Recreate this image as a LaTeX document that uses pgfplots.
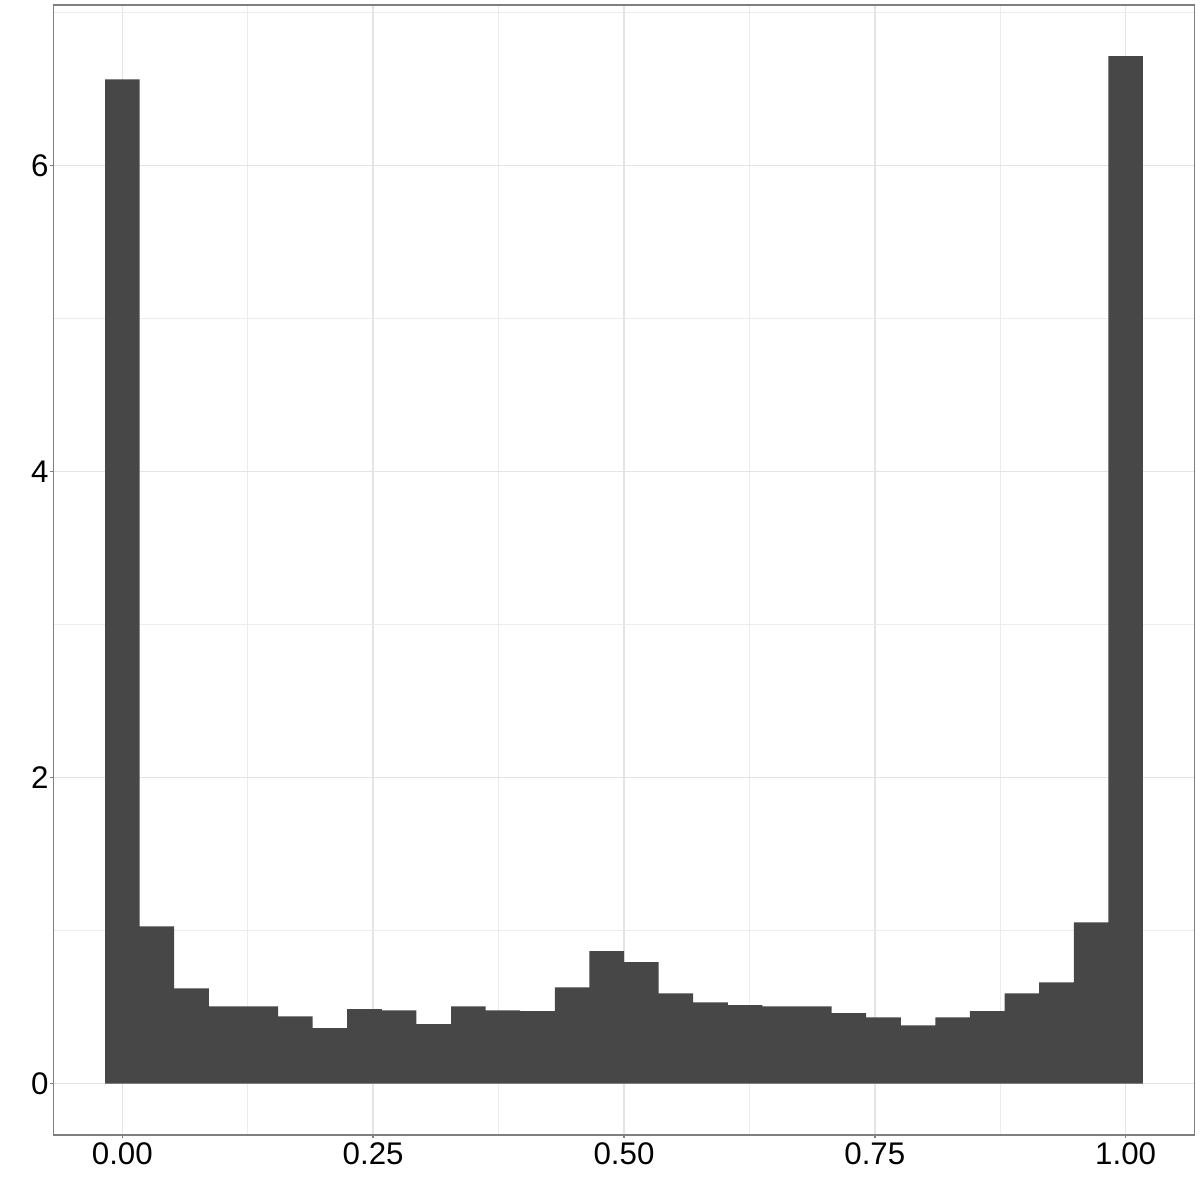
\documentclass[border=0pt]{standalone}
\usepackage{pgfplots}
\pgfplotsset{compat=1.18}
\usepackage{fontspec}
\setmainfont{Liberation Sans}
\definecolor{barfill}{HTML}{474747}
\definecolor{gridc}{HTML}{E4E4E4}
\definecolor{gridm}{HTML}{ECECEC}
\definecolor{framec}{HTML}{7F7F7F}
\begin{document}
\begin{tikzpicture}
\begin{axis}[
  scale only axis,
  width=11.41cm, height=11.30cm,
  xmin=-0.0686, xmax=1.0686,
  ymin=-0.3356, ymax=7.048,
  xtick={0,0.25,0.5,0.75,1},
  xticklabels={0.00,0.25,0.50,0.75,1.00},
  minor xtick={0.125,0.375,0.625,0.875},
  ytick={0,2,4,6},
  minor ytick={1,3,5,7},
  grid=both,
  major grid style={draw=gridc, line width=0.4pt},
  minor grid style={draw=gridm, line width=0.25pt},
  axis line style={draw=framec, line width=0.5pt},
  tick style={draw=framec, line width=0.4pt},
  major tick length=0.035cm,
  minor tick length=0pt,
  tick align=outside,
  xtick pos=bottom, ytick pos=left,
  /pgf/number format/assume math mode=true,
  tick label style={font=\fontsize{8.9}{10}\selectfont, text=black},
  xticklabel style={yshift=0.08cm},
  yticklabel style={xshift=0.11cm},
  axis on top=false,
]
\addplot[ybar, bar width=0.0344828, bar shift=0pt, fill=barfill, draw=none] coordinates {
(0.000000,6.562)
(0.034483,1.028)
(0.068966,0.623)
(0.103448,0.505)
(0.137931,0.505)
(0.172414,0.440)
(0.206897,0.362)
(0.241379,0.486)
(0.275862,0.479)
(0.310345,0.388)
(0.344828,0.505)
(0.379310,0.479)
(0.413793,0.473)
(0.448276,0.629)
(0.482759,0.865)
(0.517241,0.793)
(0.551724,0.590)
(0.586207,0.531)
(0.620690,0.512)
(0.655172,0.505)
(0.689655,0.505)
(0.724138,0.460)
(0.758621,0.433)
(0.793103,0.381)
(0.827586,0.433)
(0.862069,0.473)
(0.896552,0.590)
(0.931034,0.662)
(0.965517,1.054)
(1.000000,6.714)
};
\end{axis}
\path (current axis.south west) ++(-0.535cm,-0.65cm) coordinate (bl);
\path (current axis.north east) ++(0.055cm,0.05cm) coordinate (tr);
\path[use as bounding box] (bl) rectangle (tr);
\end{tikzpicture}
\end{document}
